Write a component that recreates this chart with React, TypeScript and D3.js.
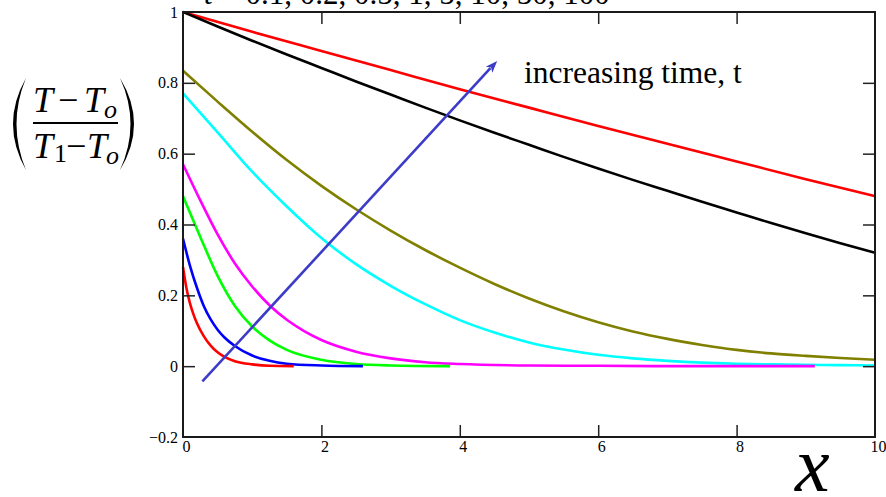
import { useEffect, useRef } from "react";
import * as d3 from "d3";

// one curve per time value, t = 0.1 ... 100
const timeLabels = ["0.1", "0.2", "0.5", "1", "5", "10", "50", "100"];
const curveColors = ["#ff0000", "#0000ff", "#00ff00", "#ff00ff", "#00ffff", "#808000", "#000000", "#ff0000"];

// values
const xT01 = [0, 0.05, 0.1, 0.15, 0.2, 0.3, 0.4, 0.5, 0.6, 0.75, 1, 1.25, 1.6];
const yT01 = [0.28, 0.22, 0.178, 0.147, 0.122, 0.085, 0.058, 0.039, 0.026, 0.014, 0.005, 0.001, 0.0];

const xT02 = [0, 0.1, 0.2, 0.3, 0.4, 0.5, 0.6, 0.75, 1, 1.25, 1.5, 2, 2.6];
const yT02 = [0.36, 0.284, 0.222, 0.17, 0.132, 0.103, 0.081, 0.057, 0.03, 0.015, 0.007, 0.002, 0.0];

const xT05 = [0, 0.25, 0.5, 0.75, 1, 1.25, 1.5, 2, 2.5, 3, 3.86];
const yT05 = [0.48, 0.365, 0.255, 0.17, 0.112, 0.073, 0.046, 0.018, 0.006, 0.002, 0.0];

const xT1 = [0, 0.25, 0.5, 0.75, 1, 1.25, 1.5, 1.75, 2, 2.5, 3, 3.5, 4, 5, 6, 7, 9.13];
const yT1 = [0.57, 0.468, 0.372, 0.29, 0.225, 0.172, 0.131, 0.099, 0.074, 0.041, 0.022, 0.011, 0.006, 0.002, 0.001, 0.0, 0.0];

const xT5 = [0, 0.5, 1, 1.5, 2, 2.5, 3, 3.5, 4, 4.5, 5, 5.5, 6, 6.5, 7, 7.5, 8, 8.5, 9, 9.5, 10];
const yT5 = [0.77, 0.66, 0.549, 0.451, 0.362, 0.288, 0.227, 0.175, 0.13, 0.095, 0.067, 0.047, 0.032, 0.022, 0.015, 0.01, 0.007, 0.005, 0.004, 0.003, 0.002];

const xT10 = [0, 0.5, 1, 1.5, 2, 2.5, 3, 3.5, 4, 4.5, 5, 5.5, 6, 6.5, 7, 7.5, 8, 8.5, 9, 9.5, 10];
const yT10 = [0.834, 0.747, 0.662, 0.582, 0.509, 0.443, 0.383, 0.328, 0.278, 0.232, 0.191, 0.155, 0.124, 0.098, 0.077, 0.06, 0.046, 0.036, 0.029, 0.023, 0.018];

const xT50 = [0, 0.5, 1, 1.5, 2, 2.5, 3, 3.5, 4, 4.5, 5, 5.5, 6, 6.5, 7, 7.5, 8, 8.5, 9, 9.5, 10];
const yT50 = [1.0, 0.959, 0.919, 0.88, 0.842, 0.804, 0.767, 0.73, 0.694, 0.659, 0.625, 0.591, 0.558, 0.526, 0.495, 0.464, 0.434, 0.404, 0.375, 0.347, 0.32];

const xT100 = [0, 1, 2, 3, 4, 5, 6, 7, 8, 9, 10];
const yT100 = [1.0, 0.944, 0.89, 0.836, 0.782, 0.73, 0.678, 0.628, 0.578, 0.528, 0.48];

const seriesX = [xT01, xT02, xT05, xT1, xT5, xT10, xT50, xT100];
const seriesY = [yT01, yT02, yT05, yT1, yT5, yT10, yT50, yT100];

const xTicks = [0, 2, 4, 6, 8, 10];
const yTicks = [1, 0.8, 0.6, 0.4, 0.2, 0, -0.2];

// arrow "increasing time", in data units
const arrowFrom = [0.28, -0.043];
const arrowTo = [4.54, 0.862];

const serif = "'Liberation Serif', 'Times New Roman', serif";

export default function App() {
  const gRef = useRef(null);

  const margin = { top: 12, right: 11, bottom: 60, left: 183 };
  const fullWidth = 886;
  const fullHeight = 497;
  const width = fullWidth - margin.left - margin.right;
  const height = fullHeight - margin.top - margin.bottom;

  useEffect(() => {
    const g = d3.select(gRef.current);

    const x = d3.scaleLinear().domain([0, 10]).range([0, width]);
    const y = d3.scaleLinear().domain([-0.2, 1]).range([height, 0]);

    const series = seriesX.map((xs, i) => ({
      label: timeLabels[i],
      color: curveColors[i],
      points: xs.map((xv, j) => [xv, seriesY[i][j]]),
    }));

    const line = d3.line()
      .x(d => x(d[0]))
      .y(d => y(d[1]))
      .curve(d3.curveMonotoneX);

    // longest time first, so the short-time curves sit on top
    g.append("g")
      .selectAll("path")
      .data(series.slice().reverse())
      .join("path")
        .attr("d", d => line(d.points))
        .attr("fill", "none")
        .attr("stroke", d => d.color)
        .attr("stroke-width", 2.6)
        .attr("stroke-linejoin", "round");

    const fmt = d3.format("~g");

    // left axis
    const left = g.append("g")
      .call(d3.axisLeft(y).tickValues(yTicks).tickSizeInner(-12).tickSizeOuter(0).tickPadding(5).tickFormat(fmt));
    // bottom axis
    const bottom = g.append("g")
      .attr("transform", `translate(0, ${height})`)
      .call(d3.axisBottom(x).tickValues(xTicks).tickSizeInner(-12).tickSizeOuter(0).tickPadding(4).tickFormat(fmt));
    // top + right ticks, no labels
    const top = g.append("g")
      .call(d3.axisTop(x).tickValues(xTicks.slice(1, -1)).tickSizeInner(-12).tickSizeOuter(0).tickFormat(() => ""));
    const right = g.append("g")
      .attr("transform", `translate(${width}, 0)`)
      .call(d3.axisRight(y).tickValues(yTicks.slice(1, -1)).tickSizeInner(-12).tickSizeOuter(0).tickFormat(() => ""));

    [left, bottom, top, right].forEach(a => {
      a.select(".domain").remove();
      a.attr("font-family", serif).attr("font-size", 16);
      a.selectAll("line").attr("stroke", "#222").attr("stroke-width", 1.5);
      a.selectAll("text").attr("fill", "#000");
    });
    left.selectAll(".tick").filter(d => d === 1 || d === -0.2).select("line").remove();
    bottom.selectAll(".tick").filter(d => d === 0 || d === 10).select("line").remove();
    bottom.selectAll("text").attr("dx", 3);

    // frame
    g.append("rect")
      .attr("width", width)
      .attr("height", height)
      .attr("fill", "none")
      .attr("stroke", "#1a1a1a")
      .attr("stroke-width", 2);

    // arrow
    const p0 = [x(arrowFrom[0]), y(arrowFrom[1])];
    const p1 = [x(arrowTo[0]), y(arrowTo[1])];
    const ang = Math.atan2(p1[1] - p0[1], p1[0] - p0[0]);
    const headLen = 12, headW = 4.5;
    const back = [p1[0] - headLen * Math.cos(ang), p1[1] - headLen * Math.sin(ang)];
    g.append("line")
      .attr("x1", p0[0]).attr("y1", p0[1])
      .attr("x2", back[0] + 2 * Math.cos(ang)).attr("y2", back[1] + 2 * Math.sin(ang))
      .attr("stroke", "#3c3cc8")
      .attr("stroke-width", 2.6);
    g.append("path")
      .attr("d", `M${p1[0]},${p1[1]}L${back[0] + headW * Math.sin(ang)},${back[1] - headW * Math.cos(ang)}L${back[0] + 3 * Math.cos(ang)},${back[1] + 3 * Math.sin(ang)}L${back[0] - headW * Math.sin(ang)},${back[1] + headW * Math.cos(ang)}Z`)
      .attr("fill", "#3c3cc8");

    return () => { g.selectAll("*").remove(); };
  }, []);

  return (
    <div style={{ position: "absolute", left: 0, top: 0 }}>
      <svg width={fullWidth} height={fullHeight} style={{ display: "block", background: "#fff" }}>
        {/* title, cut off at the top edge */}
        <text x={204} y={4} fontFamily={serif} fontSize={31}>
          <tspan fontStyle="italic">t</tspan> = {timeLabels.join(", ")}
        </text>

        {/* y label (T - To)/(T1 - To) */}
        <g fontFamily={serif} fill="#000">
          <path d="M26,78 Q0,124 26,170 Q7,124 26,78Z" />
          <path d="M120,78 Q148,124 120,170 Q141,124 120,78Z" />
          <text x={33} y={112} fontSize={36} fontStyle="italic">T</text>
          <text x={58} y={112} fontSize={36}>−</text>
          <text x={84} y={112} fontSize={36} fontStyle="italic">T</text>
          <text x={104} y={118} fontSize={26} fontStyle="italic">o</text>
          <rect x={33} y={122} width={85} height={2} />
          <text x={33} y={158} fontSize={36} fontStyle="italic">T</text>
          <text x={54} y={162} fontSize={26}>1</text>
          <text x={66} y={158} fontSize={36}>−</text>
          <text x={87} y={158} fontSize={36} fontStyle="italic">T</text>
          <text x={106} y={164} fontSize={26} fontStyle="italic">o</text>
        </g>

        <text x={524} y={83} fontFamily={serif} fontSize={31.5}>increasing time, t</text>

        <text x={795} y={491} fontFamily={serif} fontSize={78} fontStyle="italic">x</text>

        <g ref={gRef} transform={`translate(${margin.left}, ${margin.top})`}></g>
      </svg>
    </div>
  );
}
